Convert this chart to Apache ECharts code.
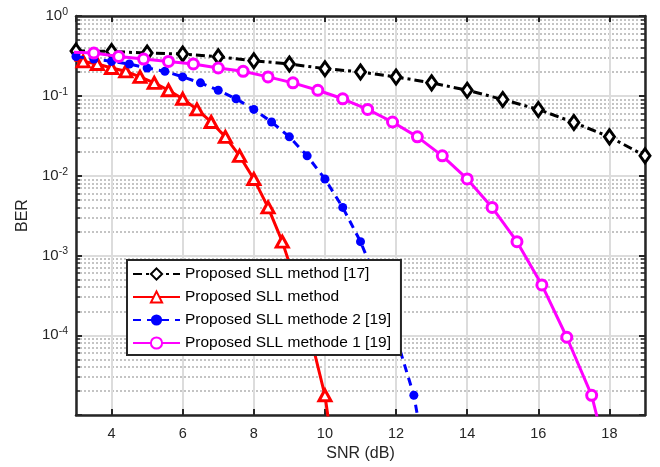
<!DOCTYPE html>
<html>
<head>
<meta charset="utf-8">
<script src="https://cdn.jsdelivr.net/npm/echarts@6/dist/echarts.min.js"></script>
<style>
html,body{margin:0;padding:0;background:#fff;}
#chart{width:660px;height:467px;}
</style>
</head>
<body>
<div id="chart"></div>
<script>
// ---- data ----
const seriesNames = [
  'Proposed SLL method [17]',
  'Proposed SLL method',
  'Proposed SLL methode 2 [19]',
  'Proposed SLL methode 1 [19]'
];
const snrRef17 = [3, 4, 5, 6, 7, 8, 9, 10, 11, 12, 13, 14, 15, 16, 17, 18, 19];
const berRef17 = [0.365, 0.36, 0.343, 0.334, 0.309, 0.275, 0.2505, 0.219, 0.199, 0.1726, 0.1453, 0.1175, 0.090, 0.0676, 0.0463, 0.0306, 0.0177];

const snrProposed = [2.8, 3.2, 3.6, 4.0, 4.4, 4.8, 5.2, 5.6, 6.0, 6.4, 6.8, 7.2, 7.6, 8.0, 8.4, 8.8, 9.2, 9.6, 10.0, 10.4];
const berProposed = [0.289, 0.270, 0.2505, 0.2233, 0.2027, 0.1726, 0.1453, 0.1175, 0.0918, 0.0676, 0.0470, 0.0306, 0.0177, 0.00909, 0.0040, 0.00149, 4.27e-4, 9.45e-5, 1.77e-5, 1e-6];

const snrMeth2 = [3.0, 3.5, 4.0, 4.5, 5.0, 5.5, 6.0, 6.5, 7.0, 7.5, 8.0, 8.5, 9.0, 9.5, 10.0, 10.5, 11.0, 11.5, 12.0, 12.5, 13.0];
const berMeth2 = [0.311, 0.289, 0.270, 0.2505, 0.2233, 0.2027, 0.1726, 0.1453, 0.1175, 0.0918, 0.0676, 0.0470, 0.0306, 0.0177, 0.00909, 0.0040, 0.00149, 4.27e-4, 9.45e-5, 1.77e-5, 1e-6];

const snrMeth1 = [2.8, 3.5, 4.2, 4.9, 5.6, 6.3, 7.0, 7.7, 8.4, 9.1, 9.8, 10.5, 11.2, 11.9, 12.6, 13.3, 14.0, 14.7, 15.4, 16.1, 16.8, 17.5, 18.2];
const berMeth1 = [0.355, 0.343, 0.311, 0.289, 0.270, 0.2505, 0.2233, 0.2027, 0.1726, 0.1453, 0.1175, 0.0918, 0.0676, 0.0470, 0.0306, 0.0177, 0.00909, 0.0040, 0.00149, 4.27e-4, 9.45e-5, 1.77e-5, 1e-6];

const xRange = [3, 19];
const yRange = [1e-5, 1];

function pairs(xs, ys) { return xs.map((x, i) => [x, ys[i]]); }

const FONT = '"Liberation Sans", Arial, Helvetica, sans-serif';
const AXIS_COLOR = '#262626';

const chart = echarts.init(document.getElementById('chart'), null, {renderer: 'canvas'});

const option = {
  animation: false,
  backgroundColor: '#ffffff',
  grid: {left: 76, right: 15, top: 16, bottom: 50, containLabel: false},
  legend: {
    z: 50, zlevel: 0,
    orient: 'vertical',
    left: 127, top: 260,
    padding: [6, 10, 4, 5],
    itemGap: 7,
    itemWidth: 47,
    itemHeight: 14,
    backgroundColor: '#ffffff',
    borderColor: '#262626',
    borderWidth: 2,
    textStyle: {fontFamily: FONT, fontSize: 15.5, color: '#000'},
    data: seriesNames
  },
  xAxis: [{
    type: 'value', position: 'bottom',
    min: xRange[0], max: xRange[1], splitNumber: 8,
    name: 'SNR (dB)', nameLocation: 'middle', nameGap: 29,
    nameTextStyle: {fontFamily: FONT, fontSize: 16, color: AXIS_COLOR},
    axisLine: {lineStyle: {color: AXIS_COLOR, width: 2.5}},
    axisTick: {inside: true, length: 6, lineStyle: {color: AXIS_COLOR, width: 2}},
    axisLabel: {fontFamily: FONT, fontSize: 14.5, color: AXIS_COLOR, margin: 11, showMinLabel: false, showMaxLabel: false},
    splitLine: {show: true, lineStyle: {color: '#dcdcdc', width: 2}}
  }, {
    type: 'value', position: 'top',
    min: xRange[0], max: xRange[1], splitNumber: 8,
    axisLine: {lineStyle: {color: AXIS_COLOR, width: 2.5}},
    axisTick: {inside: true, length: 6, lineStyle: {color: AXIS_COLOR, width: 2}},
    axisLabel: {show: false},
    splitLine: {show: false}
  }],
  yAxis: [{
    type: 'log', logBase: 10, position: 'left',
    min: yRange[0], max: yRange[1],
    name: 'BER', nameLocation: 'middle', nameGap: 44,
    nameTextStyle: {fontFamily: FONT, fontSize: 16, color: AXIS_COLOR},
    axisLine: {lineStyle: {color: AXIS_COLOR, width: 2.5}},
    axisTick: {inside: true, length: 6, lineStyle: {color: AXIS_COLOR, width: 2}},
    minorTick: {show: true, splitNumber: 9, length: 4, lineStyle: {color: AXIS_COLOR, width: 1.5}},
    minorSplitLine: {show: true, lineStyle: {color: '#c4c4c4', width: 2, type: [2, 2]}},
    splitLine: {show: true, lineStyle: {color: '#dcdcdc', width: 2}},
    axisLabel: {
      fontFamily: FONT, fontSize: 15, color: AXIS_COLOR, margin: 8,
      showMinLabel: false,
      formatter: function (v) {
        const e = Math.round(Math.log10(v));
        return '10{sup|' + e + '}';
      },
      rich: {sup: {fontFamily: FONT, fontSize: 10.5, color: AXIS_COLOR, verticalAlign: 'bottom', padding: [0, 0, 8, 0]}}
    }
  }, {
    type: 'log', logBase: 10, position: 'right',
    min: yRange[0], max: yRange[1],
    axisLine: {lineStyle: {color: AXIS_COLOR, width: 2.5}},
    axisTick: {inside: true, length: 6, lineStyle: {color: AXIS_COLOR, width: 2}},
    minorTick: {show: true, splitNumber: 9, length: 4, lineStyle: {color: AXIS_COLOR, width: 1.5}},
    axisLabel: {show: false},
    splitLine: {show: false}
  }],
  series: [{
    name: seriesNames[0], type: 'line', clip: true, z: 2,
    data: pairs(snrRef17, berRef17),
    lineStyle: {color: '#000', width: 3, type: [9, 4, 3, 4]},
    symbol: 'diamond', symbolSize: [10, 14],
    itemStyle: {color: '#ffffff', borderColor: '#000', borderWidth: 3}
  }, {
    name: seriesNames[1], type: 'line', clip: true, z: 3,
    data: pairs(snrProposed, berProposed),
    lineStyle: {color: '#ff0000', width: 3, type: 'solid'},
    symbol: 'triangle', symbolSize: [12, 11],
    itemStyle: {color: '#ffffff', borderColor: '#ff0000', borderWidth: 3}
  }, {
    name: seriesNames[2], type: 'line', clip: true, z: 4,
    data: pairs(snrMeth2, berMeth2),
    lineStyle: {color: '#0000ff', width: 3, type: [8, 6]},
    symbol: 'circle', symbolSize: 9,
    itemStyle: {color: '#0000ff', borderColor: '#0000ff', borderWidth: 0}
  }, {
    name: seriesNames[3], type: 'line', clip: true, z: 5,
    data: pairs(snrMeth1, berMeth1),
    lineStyle: {color: '#ff00ff', width: 3, type: 'solid'},
    symbol: 'circle', symbolSize: 10,
    itemStyle: {color: '#ffffff', borderColor: '#ff00ff', borderWidth: 3}
  }]
};
chart.setOption(option);
</script>
</body>
</html>
